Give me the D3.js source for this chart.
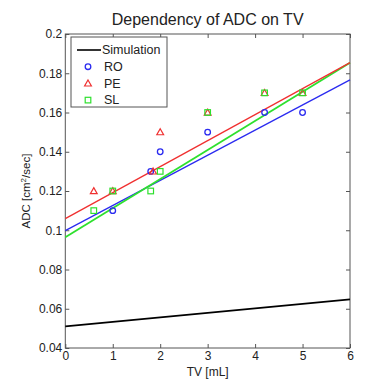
<!DOCTYPE html>
<html><head><meta charset="utf-8">
<script src="https://cdn.jsdelivr.net/npm/d3@7"></script>
<style>body{margin:0;background:#fff}svg{display:block;font-family:"Liberation Sans",Arial,sans-serif}</style>
</head><body><div id="c"></div>
<script>
const xTicks = [0,1,2,3,4,5,6];
const yTicks = [0.04,0.06,0.08,0.1,0.12,0.14,0.16,0.18,0.2];
const roX = [1,1.8,2,3,4.2,5];
const roY = [0.11,0.13,0.14,0.15,0.16,0.16];
const peX = [0.6,1,1.85,2,3,4.2,5];
const peY = [0.12,0.12,0.13,0.15,0.16,0.17,0.17];
const slX = [0.6,1,1.8,2,3,4.2,5];
const slY = [0.11,0.12,0.12,0.13,0.16,0.17,0.17];
const fitX = [0,6];
const roFit = [0.0998,0.1766];
const peFit = [0.1059,0.1854];
const slFit = [0.0964,0.1854];
const simFit = [0.0510,0.0648];
const colors = {sim:"#000000", ro:"#2b2bf0", pe:"#f03030", sl:"#2ee02e"};

const W=366,H=381, L=65.3, R=350, T=34, B=348;
const svg=d3.select("#c").append("svg").attr("width",W).attr("height",H);
const x=d3.scaleLinear().domain([0,6]).range([L,R]);
const y=d3.scaleLinear().domain([0.04,0.2]).range([B,T]);

svg.append("rect").attr("x",L).attr("y",T).attr("width",R-L).attr("height",B-T).attr("fill","#fff");

const fmt=d=>String(+d.toFixed(2));
const tk=4;
const gx=svg.append("g").attr("transform",`translate(0,${B})`).call(d3.axisBottom(x).tickValues(xTicks).tickSizeInner(-tk).tickSizeOuter(0).tickPadding(3).tickFormat(d3.format("d")));
const gx2=svg.append("g").attr("transform",`translate(0,${T})`).call(d3.axisTop(x).tickValues(xTicks).tickSizeInner(-tk).tickSizeOuter(0).tickFormat(""));
const gy=svg.append("g").attr("transform",`translate(${L},0)`).call(d3.axisLeft(y).tickValues(yTicks).tickSizeInner(-tk).tickSizeOuter(0).tickPadding(3).tickFormat(fmt));
const gy2=svg.append("g").attr("transform",`translate(${R},0)`).call(d3.axisRight(y).tickValues(yTicks).tickSizeInner(-tk).tickSizeOuter(0).tickFormat(""));
[gx,gx2,gy,gy2].forEach(g=>{g.select(".domain").remove();g.selectAll("line").attr("stroke","#555");g.selectAll("text").attr("fill","#222").style("font-size","12px").style("font-family","'Liberation Sans',Arial,sans-serif");});
gx.selectAll("text").attr("dy","0.71em");

svg.append("rect").attr("x",L).attr("y",T).attr("width",R-L).attr("height",B-T).attr("fill","none").attr("stroke","#555").attr("stroke-width",1);

const line=d3.line().x(d=>x(d[0])).y(d=>y(d[1]));
function fit(vals,c,w){svg.append("path").datum(fitX.map((v,i)=>[v,vals[i]])).attr("d",line).attr("fill","none").attr("stroke",c).attr("stroke-width",w);}
fit(simFit,colors.sim,1.6);
fit(roFit,colors.ro,1.3);
fit(slFit,colors.sl,1.8);
fit(peFit,colors.pe,1.3);

function circ(g,cx,cy,c){g.append("circle").attr("cx",cx).attr("cy",cy).attr("r",2.8).attr("fill","none").attr("stroke",c).attr("stroke-width",1.3);}
function tri(g,cx,cy,c){g.append("path").attr("d",`M${cx},${cy-3.4}L${cx+3.4},${cy+2.6}L${cx-3.4},${cy+2.6}Z`).attr("fill","none").attr("stroke",c).attr("stroke-width",1.2);}
function sq(g,cx,cy,c){g.append("rect").attr("x",cx-2.8).attr("y",cy-2.8).attr("width",5.6).attr("height",5.6).attr("fill","none").attr("stroke",c).attr("stroke-width",1.2);}

const gm=svg.append("g");
roX.forEach((v,i)=>circ(gm,x(v),y(roY[i]),colors.ro));
peX.forEach((v,i)=>tri(gm,x(v),y(peY[i]),colors.pe));
slX.forEach((v,i)=>sq(gm,x(v),y(slY[i]),colors.sl));

// legend
const lg=svg.append("g");
lg.append("rect").attr("x",71).attr("y",37).attr("width",96).attr("height",70).attr("fill","#fff").attr("stroke","#555").attr("stroke-width",1);
const items=[["Simulation","sim"],["RO","ro"],["PE","pe"],["SL","sl"]];
items.forEach((it,i)=>{
  const yy=50+i*16.7;
  if(it[1]==="sim") lg.append("line").attr("x1",77).attr("x2",101).attr("y1",yy).attr("y2",yy).attr("stroke","#000").attr("stroke-width",1.6);
  else if(it[1]==="ro") circ(lg,88,yy,colors.ro);
  else if(it[1]==="pe") tri(lg,88,yy,colors.pe);
  else sq(lg,88,yy,colors.sl);
  lg.append("text").attr("x",it[1]==="sim"?102:104).attr("y",yy).attr("dy","0.35em").style("font-size","12.5px").attr("fill","#222").text(it[0]);
});

svg.append("text").attr("x",(L+R)/2).attr("y",25).attr("text-anchor","middle").style("font-size","16px").attr("fill","#222").text("Dependency of ADC on TV");
svg.append("text").attr("x",(L+R)/2).attr("y",376).attr("text-anchor","middle").style("font-size","12px").attr("fill","#222").text("TV [mL]");
const yl=svg.append("text").attr("transform",`translate(30,${(T+B)/2}) rotate(-90)`).attr("text-anchor","middle").style("font-size","11.5px").attr("fill","#222");
yl.append("tspan").text("ADC [cm");
yl.append("tspan").attr("dy","-4").style("font-size","8px").text("2");
yl.append("tspan").attr("dy","4").text("/sec]");
</script></body></html>
